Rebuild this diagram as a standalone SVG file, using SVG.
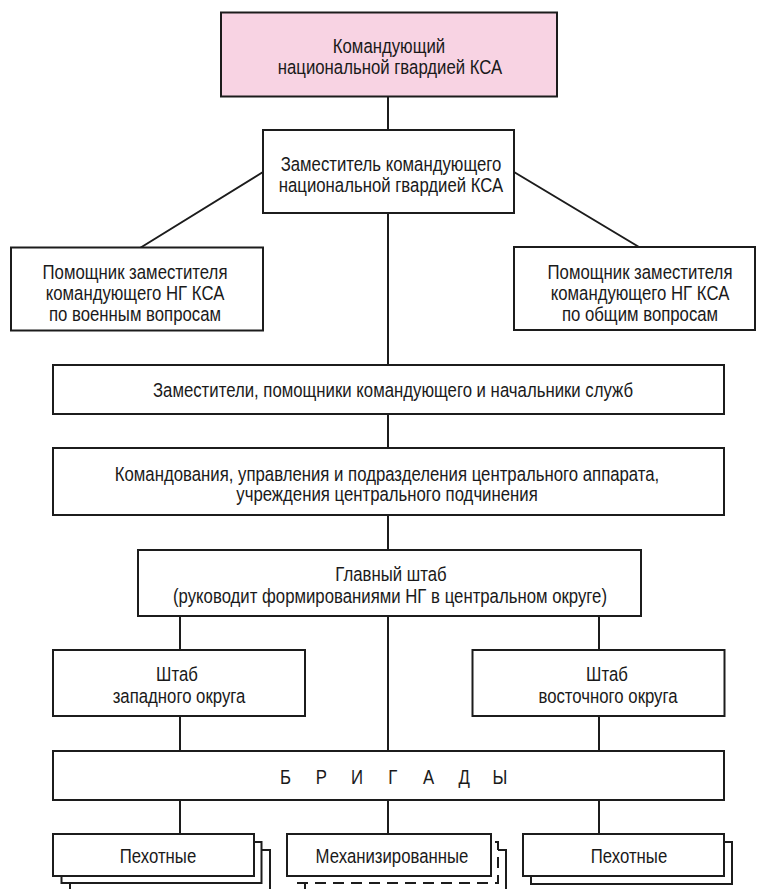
<svg xmlns="http://www.w3.org/2000/svg" width="757" height="889" viewBox="0 0 757 889">
<style>
.b{fill:#fff;stroke:#1c1c1c;stroke-width:2}
.p{fill:#f8d3e3;stroke:#1c1c1c;stroke-width:2}
.d{fill:#fff;stroke:#1c1c1c;stroke-width:2;stroke-dasharray:11 7}
.c{fill:none;stroke:#1c1c1c;stroke-width:2}
text{font-family:"Liberation Sans",Arial,sans-serif;font-size:19.5px;fill:#1a1a1a;text-anchor:middle}
</style>
<rect width="757" height="889" fill="#fff"/>
<g id="connectors">
<path class="c" d="M388 97V130M263 172L140 248M514 172L639 247M388 213V365M388 414V448M388 515V550M180 616V650M599 616V650M388 616V751M180 716V751M599 716V751M180 800V834M388 800V834M599 800V834"/>
</g>
<g id="commander">
<rect class="p" x="221" y="12.5" width="336" height="84"/>
<text transform="matrix(0.86 0 0 1 389 0)" y="53">Командующий</text>
<text transform="matrix(0.86 0 0 1 390 0)" y="74">национальной гвардией КСА</text>
</g>
<g id="deputy">
<rect class="b" x="263" y="130" width="251" height="83"/>
<text transform="matrix(0.86 0 0 1 391 0)" y="171">Заместитель командующего</text>
<text transform="matrix(0.86 0 0 1 391 0)" y="192">национальной гвардией КСА</text>
</g>
<g id="assistant-military">
<rect class="b" x="11" y="247.5" width="252" height="83"/>
<text transform="matrix(0.86 0 0 1 135 0)" y="279">Помощник заместителя</text>
<text transform="matrix(0.86 0 0 1 135 0)" y="300">командующего НГ КСА</text>
<text transform="matrix(0.86 0 0 1 135 0)" y="321">по военным вопросам</text>
</g>
<g id="assistant-general">
<rect class="b" x="514" y="247" width="241" height="83"/>
<text transform="matrix(0.86 0 0 1 640 0)" y="279">Помощник заместителя</text>
<text transform="matrix(0.86 0 0 1 640 0)" y="300">командующего НГ КСА</text>
<text transform="matrix(0.86 0 0 1 640 0)" y="321">по общим вопросам</text>
</g>
<g id="deputies">
<rect class="b" x="53" y="365" width="671" height="49"/>
<text transform="matrix(0.86 0 0 1 393 0)" y="397">Заместители, помощники командующего и начальники служб</text>
</g>
<g id="commands">
<rect class="b" x="53" y="448" width="671" height="67"/>
<text transform="matrix(0.86 0 0 1 387 0)" y="481">Командования, управления и подразделения центрального аппарата,</text>
<text transform="matrix(0.86 0 0 1 387 0)" y="501">учреждения центрального подчинения</text>
</g>
<g id="main-staff">
<rect class="b" x="138" y="550" width="503" height="66"/>
<text transform="matrix(0.86 0 0 1 391 0)" y="581">Главный штаб</text>
<text transform="matrix(0.86 0 0 1 390 0)" y="603">(руководит формированиями НГ в центральном округе)</text>
</g>
<g id="west-staff">
<rect class="b" x="53" y="650" width="252" height="66"/>
<text transform="matrix(0.86 0 0 1 177 0)" y="681">Штаб</text>
<text transform="matrix(0.86 0 0 1 179 0)" y="703">западного округа</text>
</g>
<g id="east-staff">
<rect class="b" x="472.5" y="650" width="252" height="66"/>
<text transform="matrix(0.86 0 0 1 607 0)" y="681">Штаб</text>
<text transform="matrix(0.86 0 0 1 608 0)" y="703">восточного округа</text>
</g>
<g id="brigades">
<rect class="b" x="53" y="751" width="671" height="49"/>
<text transform="matrix(0.86 0 0 1 392.75 0)" x="-124.7 -103.9 -83.1 -62.4 -41.6 -20.8 0 20.8 41.6 62.4 83.1 103.9 124.7" y="784">Б Р И Г А Д Ы</text>
</g>
<g id="infantry-west">
<rect class="b" x="70" y="850" width="200" height="42"/>
<rect class="b" x="61.5" y="842" width="200" height="41"/>
<rect class="b" x="53" y="834" width="201" height="42"/>
<text transform="matrix(0.86 0 0 1 158 0)" y="863">Пехотные</text>
</g>
<g id="mechanized">
<rect class="b" x="305" y="850" width="201" height="42"/>
<rect class="d" x="297" y="842" width="201" height="41"/>
<rect class="b" x="287" y="834" width="204" height="42"/>
<text transform="matrix(0.86 0 0 1 392 0)" y="863">Механизированные</text>
</g>
<g id="infantry-east">
<rect class="b" x="531" y="842" width="201" height="42"/>
<rect class="b" x="523" y="834" width="201" height="42"/>
<text transform="matrix(0.86 0 0 1 629 0)" y="863">Пехотные</text>
</g>
</svg>
